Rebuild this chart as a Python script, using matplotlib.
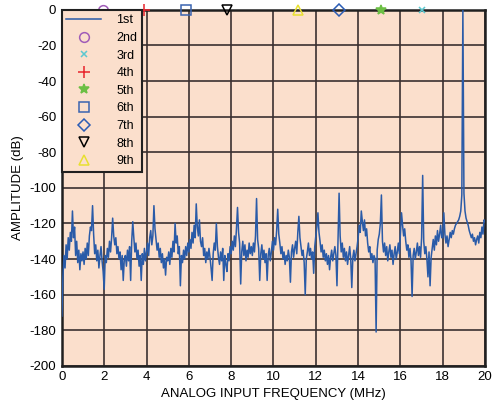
import numpy as np
import matplotlib.pyplot as plt

plt.rcParams['font.family'] = ['Liberation Sans', 'DejaVu Sans']
plt.rcParams['axes.unicode_minus'] = False

# FFT trace, 0.05 MHz per point, 0 ... 20 MHz (one row per MHz)
amp_db = [
    -172, -150, -138, -145, -132, -140, -128, -135, -125, -130, -113, -128, -122, -138, -130, -142, -135, -146, -137, -141,
    -136, -143, -134, -140, -131, -138, -127, -122, -124, -110, -126, -137, -132, -141, -135, -145, -138, -133, -141, -147,
    -157, -138, -142, -134, -139, -130, -136, -128, -117, -127, -132, -128, -137, -133, -140, -136, -146, -138, -152, -140,
    -138, -144, -135, -141, -133, -152, -130, -119, -128, -136, -131, -140, -135, -144, -138, -152, -137, -143, -134, -141,
    -136, -131, -138, -128, -124, -132, -127, -110, -123, -129, -135, -131, -139, -134, -142, -137, -145, -140, -149, -139,
    -141, -136, -143, -134, -139, -130, -136, -120, -131, -127, -137, -133, -155, -138, -142, -135, -140, -133, -138, -131,
    -136, -129, -134, -125, -131, -121, -128, -109, -122, -127, -118, -130, -133, -128, -138, -134, -142, -136, -140, -134,
    -139, -145, -152, -137, -131, -135, -120, -133, -139, -143, -136, -141, -134, -152, -138, -143, -147, -137, -141, -133,
    -137, -130, -135, -127, -133, -123, -111, -125, -131, -154, -136, -130, -138, -132, -141, -135, -139, -131, -137, -133,
    -138, -131, -136, -127, -106, -129, -134, -152, -137, -132, -140, -135, -142, -137, -152, -138, -134, -141, -136, -130,
    -135, -128, -132, -124, -112, -126, -131, -137, -133, -140, -136, -143, -138, -141, -135, -139, -153, -136, -132, -139,
    -134, -130, -137, -125, -116, -128, -133, -138, -135, -142, -160, -140, -136, -131, -138, -134, -140, -136, -148, -133,
    -127, -122, -114, -125, -130, -136, -132, -139, -135, -141, -137, -143, -138, -146, -139, -135, -141, -137, -133, -138,
    -155, -128, -103, -127, -136, -131, -139, -134, -141, -136, -143, -138, -133, -140, -156, -139, -135, -141, -137, -133,
    -128, -121, -125, -113, -119, -124, -118, -127, -123, -131, -136, -133, -140, -137, -142, -138, -140, -181, -135, -129,
    -126, -120, -104, -130, -136, -131, -138, -133, -141, -136, -132, -139, -135, -143, -137, -133, -140, -136, -131, -137,
    -126, -114, -121, -127, -123, -130, -135, -132, -139, -134, -141, -161, -138, -134, -140, -136, -131, -138, -133, -139,
    -128, -93, -130, -137, -133, -140, -150, -136, -155, -139, -134, -129, -135, -127, -132, -124, -130, -126, -121, -128,
    -128, -114, -126, -131, -127, -133, -129, -125, -128, -124, -126, -123, -121, -120, -119, -118, -116, -113, -104, 0,
    -103, -113, -117, -119, -121, -124, -126, -128, -126, -130, -128, -132, -129, -127, -131, -125, -128, -122, -126, -118,
    -119,
]
freq_mhz = np.arange(len(amp_db)) * 0.05

# harmonic markers (frequency in MHz, plotted at 0 dB)
harm_names = ['2nd', '3rd', '4th', '5th', '6th', '7th', '8th', '9th']
harm_freq = [1.93, 17.03, 3.89, 15.1, 5.85, 13.11, 7.79, 11.17]
harm_marker = ['o', 'x', '+', '*', 's', 'D', 'v', '^']
harm_size = [7, 4.5, 8, 7, 7, 6.5, 7, 7.5]
harm_color = ['#a05cb8', '#5cc8d0', '#e8242c', '#6cbf44', '#3a64b0', '#2a5cb4', '#000000', '#e8e030']

fig = plt.figure(figsize=(4.95, 4.12), dpi=100)
ax = fig.add_axes([0.125, 0.112, 0.855, 0.864])
ax.set_facecolor('#fbdfcc')

ax.plot(freq_mhz, amp_db, color='#2a5ba8', lw=1.1, label='1st', zorder=3)
for name, f, m, ms, c in zip(harm_names, harm_freq, harm_marker, harm_size, harm_color):
    kw = dict(markerfacecolor='none') if m in ('o', 's', 'D', 'v', '^') else {}
    ax.plot([f], [0], linestyle='none', marker=m, color=c, markersize=ms,
            markeredgewidth=1.1, clip_on=False, label=name, zorder=5, **kw)

ax.set_xlim(0, 20)
ax.set_ylim(-200, 0)
ax.set_xticks(np.arange(0, 21, 2))
ax.set_yticks(np.arange(-200, 1, 20))
ax.grid(True, color='#3a3030', lw=1.2)
ax.set_axisbelow(True)
ax.tick_params(length=0, labelsize=9.5, pad=4)
for s in ax.spines.values():
    s.set_linewidth(1.8)
    s.set_color('#202020')

ax.set_xlabel('ANALOG INPUT FREQUENCY (MHz)', fontsize=9.5, labelpad=3)
ax.set_ylabel('AMPLITUDE (dB)', fontsize=9.5, labelpad=4)

leg = ax.legend(loc='upper left', fontsize=9, fancybox=False, framealpha=1,
                facecolor='#fbdfcc', edgecolor='#202020', handlelength=2.8,
                labelspacing=0.45, borderaxespad=0, handletextpad=1.2,
                borderpad=0.35)
leg.get_frame().set_linewidth(1.5)
leg.set_zorder(6)

fig.savefig('out.png', dpi=100)
